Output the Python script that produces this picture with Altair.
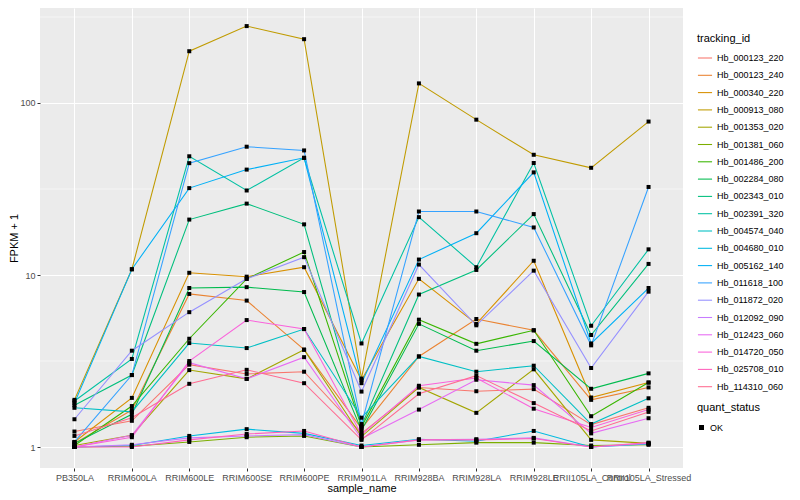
import altair as alt
import pandas as pd

samples = ["PB350LA", "RRIM600LA", "RRIM600LE", "RRIM600SE", "RRIM600PE",
           "RRIM901LA", "RRIM928BA", "RRIM928LA", "RRIM928LE",
           "RRII105LA_Control", "RRII105LA_Stressed"]

tracking_ids = ["Hb_000123_220", "Hb_000123_240", "Hb_000340_220", "Hb_000913_080",
                "Hb_001353_020", "Hb_001381_060", "Hb_001486_200", "Hb_002284_080",
                "Hb_002343_010", "Hb_002391_320", "Hb_004574_040", "Hb_004680_010",
                "Hb_005162_140", "Hb_011618_100", "Hb_011872_020", "Hb_012092_090",
                "Hb_012423_060", "Hb_014720_050", "Hb_025708_010", "Hb_114310_060"]

palette = ["#F8766D", "#EA8331", "#D89000", "#C09B00", "#A3A500", "#7CAE00", "#39B600",
           "#00BB4E", "#00BF7D", "#00C1A3", "#00BFC4", "#00BAE0", "#00B0F6", "#35A2FF",
           "#9590FF", "#C77CFF", "#E76BF3", "#FA62DB", "#FF62BC", "#FF6C91"]

# FPKM + 1 per sample (order of `samples`)
hb_000123_220 = [1.23, 1.42, 3.01, 2.66, 2.74, 1.20, 2.22, 2.11, 2.17, 1.35, 1.69]
hb_000123_240 = [1.05, 1.64, 7.76, 7.10, 3.68, 1.28, 3.36, 5.55, 4.77, 1.88, 2.22]
hb_000340_220 = [1.07, 1.93, 10.3, 9.78, 11.1, 2.45, 9.50, 5.20, 12.1, 1.94, 2.37]
hb_000913_080 = [1.88, 10.8, 200, 280, 235, 2.50, 130, 80, 50, 42, 78]
hb_001353_020 = [1.02, 1.17, 2.80, 2.49, 3.68, 1.15, 2.22, 1.58, 2.83, 1.10, 1.05]
hb_001381_060 = [1.00, 1.01, 1.07, 1.14, 1.16, 1.00, 1.03, 1.06, 1.06, 1.02, 1.03]
hb_001486_200 = [1.02, 1.73, 4.26, 9.50, 13.6, 1.31, 5.50, 3.98, 4.77, 1.51, 2.37]
hb_002284_080 = [1.05, 1.55, 8.40, 8.50, 7.96, 1.25, 5.20, 3.63, 4.13, 2.18, 2.68]
hb_002343_010 = [1.75, 2.62, 21.0, 26.0, 19.7, 1.33, 7.70, 10.7, 22.6, 4.48, 11.6]
hb_002391_320 = [1.85, 3.25, 49.0, 31.0, 48.0, 4.00, 21.7, 11.1, 44.8, 5.07, 14.1]
hb_004574_040 = [1.69, 1.60, 4.02, 3.76, 4.85, 1.48, 3.36, 2.74, 2.97, 1.36, 1.92]
hb_004680_010 = [1.00, 1.02, 1.16, 1.27, 1.20, 1.02, 1.11, 1.08, 1.24, 1.00, 1.04]
hb_005162_140 = [1.80, 10.8, 32.0, 41.0, 48.0, 2.35, 12.3, 17.5, 39.5, 4.00, 8.40]
hb_011618_100 = [1.07, 2.62, 44.7, 55.7, 53.0, 1.36, 23.4, 23.4, 18.9, 3.90, 32.5]
hb_011872_020 = [1.45, 3.63, 6.08, 9.50, 12.7, 2.10, 11.5, 5.10, 10.6, 2.88, 8.00]
hb_012092_090 = [1.00, 1.03, 1.13, 1.16, 1.18, 1.00, 1.10, 1.11, 1.13, 1.00, 1.05]
hb_012423_060 = [1.00, 1.17, 3.09, 2.49, 3.33, 1.12, 1.65, 2.46, 2.29, 1.20, 1.47]
hb_014720_050 = [1.00, 1.14, 3.16, 5.47, 4.85, 1.18, 2.27, 2.52, 1.67, 1.30, 1.65]
hb_025708_010 = [1.00, 1.00, 1.10, 1.19, 1.24, 1.00, 1.10, 1.10, 1.12, 1.00, 1.06]
hb_114310_060 = [1.16, 1.48, 2.33, 2.81, 2.35, 1.10, 2.04, 2.60, 1.80, 1.24, 1.60]

series = [hb_000123_220, hb_000123_240, hb_000340_220, hb_000913_080, hb_001353_020,
          hb_001381_060, hb_001486_200, hb_002284_080, hb_002343_010, hb_002391_320,
          hb_004574_040, hb_004680_010, hb_005162_140, hb_011618_100, hb_011872_020,
          hb_012092_090, hb_012423_060, hb_014720_050, hb_025708_010, hb_114310_060]

major_breaks = [1, 10, 100]
minor_breaks = [3.1623, 31.623, 316.23]

rows = []
for tid, vals in zip(tracking_ids, series):
    for s, v in zip(samples, vals):
        rows.append({"tracking_id": tid, "sample_name": s, "fpkm": v, "quant_status": "OK"})
df = pd.DataFrame(rows)
minor_df = pd.DataFrame({"fpkm": minor_breaks})

FONT = "Liberation Sans"

x_enc = alt.X("sample_name:N", sort=samples,
              scale=alt.Scale(type="point", padding=0.6),
              axis=alt.Axis(title="sample_name", labelAngle=0, labelOverlap=False,
                            labelLimit=0, grid=True, labelPadding=2, titlePadding=0))
y_enc = alt.Y("fpkm:Q",
              scale=alt.Scale(type="log", domain=[0.755, 356.7], nice=False, zero=False),
              axis=alt.Axis(title="FPKM + 1", values=major_breaks, format="d",
                            grid=True, labelPadding=2, titlePadding=0))

minor = alt.Chart(minor_df).mark_rule(color="white", strokeWidth=0.55).encode(y="fpkm:Q")

lines = alt.Chart(df).mark_line(strokeWidth=1.07).encode(
    x=x_enc, y=y_enc,
    color=alt.Color("tracking_id:N",
                    scale=alt.Scale(domain=tracking_ids, range=palette),
                    legend=alt.Legend(title="tracking_id", orient="none",
                                      legendX=657, legendY=25,
                                      symbolType="stroke", symbolSize=200,
                                      symbolStrokeWidth=1.07, rowPadding=4.3,
                                      labelOffset=4)),
)

points = alt.Chart(df).mark_point(filled=True, size=16, opacity=1, color="black").encode(
    x=x_enc, y=y_enc,
    shape=alt.Shape("quant_status:N", scale=alt.Scale(range=["square"]),
                    legend=alt.Legend(title="quant_status", orient="none",
                                      legendX=657, legendY=394, titlePadding=10,
                                      symbolSize=25, symbolFillColor="black",
                                      symbolStrokeColor="black")),
)

chart = alt.layer(minor, lines, points).properties(
    width=643, height=460,
    autosize=alt.AutoSizeParams(type="none"),
    padding={"left": 32, "top": 0, "right": 109, "bottom": 28},
).configure_view(
    fill="#EBEBEB", strokeWidth=0
).configure_axis(
    gridColor="white", gridWidth=1.07, domain=False,
    tickColor="#333333", tickSize=3, tickWidth=1,
    labelColor="#4D4D4D", labelFont=FONT, labelFontSize=9,
    titleFont=FONT, titleFontSize=11, titleFontWeight="normal", titleColor="black",
).configure_legend(
    titleFont=FONT, titleFontSize=11, titleFontWeight="normal", titleColor="black",
    labelFont=FONT, labelFontSize=9, labelColor="black", titlePadding=6,
)

chart.save("out.html", embed_options={"renderer": "svg", "actions": False})
